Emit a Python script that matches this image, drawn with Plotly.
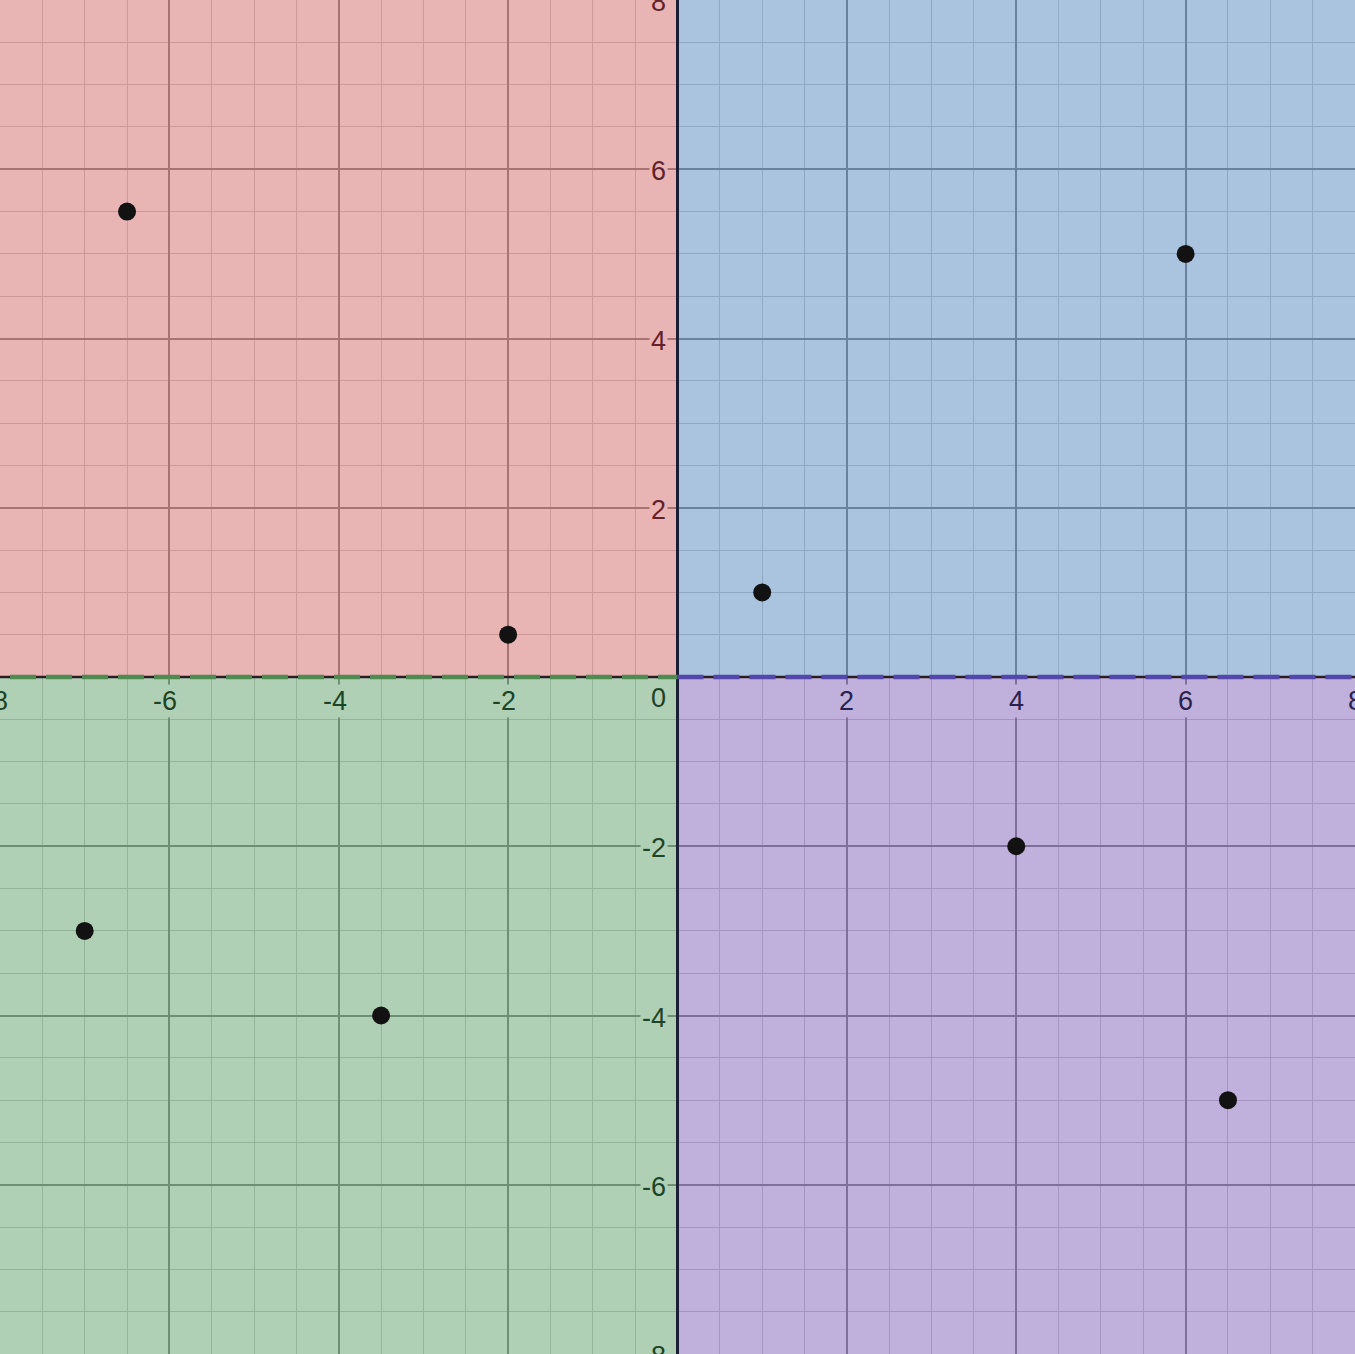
import plotly.graph_objects as go

# ---- data ----
pts_x = [-6.5, -2, 1, 6, -7, -3.5, 4, 6.5]
pts_y = [5.5, 0.5, 1, 5, -3, -4, -2, -5]

x_range = [-8, 8]
y_range = [-8, 8]
x_tick_vals = [-8, -6, -4, -2, 2, 4, 6, 8]
y_tick_vals = [-8, -6, -4, -2, 2, 4, 6, 8]
x_tick_text = ["-8", "-6", "-4", "-2", "2", "4", "6", "8"]
y_tick_text = ["-8", "-6", "-4", "-2", "2", "4", "6", "8"]

quad_bg = {"tl": "#e9b4b4", "tr": "#aac4e0", "bl": "#b0d0b5", "br": "#bfb1db"}
quad_fill = {"tl": "rgb(211,105,105)", "tr": "rgb(85,137,193)",
             "bl": "rgb(97,161,107)", "br": "rgb(127,99,183)"}
quad_label = {"tl": "#62222a", "tr": "#1f3550", "bl": "#1d4426", "br": "#2a2150"}

W, H = 1355, 1354
FONT = "Liberation Sans, Arial, sans-serif"
FS = 27

fig = go.Figure()

quad_extent = {
    "tl": (x_range[0], 0, 0, y_range[1]),
    "tr": (0, x_range[1], 0, y_range[1]),
    "bl": (x_range[0], 0, y_range[0], 0),
    "br": (0, x_range[1], y_range[0], 0),
}
for k, (x0, x1, y0, y1) in quad_extent.items():
    fig.add_shape(type="rect", xref="x", yref="y", x0=x0, x1=x1, y0=y0, y1=y1,
                  fillcolor=quad_fill[k], opacity=0.5, line=dict(width=0),
                  layer="between")

fig.add_shape(type="line", xref="x", yref="y", x0=x_range[0], x1=x_range[1], y0=0, y1=0,
              line=dict(color="#2a1c22", width=2.5), layer="between")
fig.add_shape(type="line", xref="x", yref="y", x0=0, x1=0, y0=y_range[0], y1=y_range[1],
              line=dict(color="#1b1f33", width=3), layer="between")

px_per_unit = W / (x_range[1] - x_range[0])
fig.add_trace(go.Scatter(x=[x_range[0] - 26 / px_per_unit, 0], y=[0, 0], mode="lines",
                         line=dict(color="#4f8a52", width=4.5, dash="26px,10px"),
                         hoverinfo="skip", showlegend=False))
fig.add_trace(go.Scatter(x=[0, x_range[1] + 1], y=[0, 0], mode="lines",
                         line=dict(color="#5546aa", width=4.5, dash="26px,10px"),
                         hoverinfo="skip", showlegend=False))

fig.add_trace(go.Scatter(x=pts_x, y=pts_y, mode="markers",
                         marker=dict(size=18, color="#121212", line=dict(width=0)),
                         showlegend=False))

for v, t in zip(x_tick_vals, x_tick_text):
    q = "bl" if v < 0 else "br"
    fig.add_annotation(x=v, y=0, xref="x", yref="y", text=t, showarrow=False,
                       font=dict(family=FONT, size=FS, color=quad_label[q]),
                       bgcolor=quad_bg[q], borderpad=1,
                       xanchor="center", yanchor="middle",
                       xshift=-4 if v < 0 else 0, yshift=-24)
for v, t in zip(y_tick_vals, y_tick_text):
    q = "tl" if v > 0 else "bl"
    fig.add_annotation(x=0, y=v, xref="x", yref="y", text=t, showarrow=False,
                       font=dict(family=FONT, size=FS, color=quad_label[q]),
                       bgcolor=quad_bg[q], borderpad=1,
                       xanchor="right", yanchor="middle", xshift=-10, yshift=-2)
fig.add_annotation(x=0, y=0, xref="x", yref="y", text="0", showarrow=False,
                   font=dict(family=FONT, size=FS, color=quad_label["bl"]),
                   bgcolor=quad_bg["bl"], borderpad=1,
                   xanchor="right", yanchor="middle", xshift=-10, yshift=-21)

axis_common = dict(showticklabels=False, ticks="", zeroline=False, showline=False,
                   showgrid=True, dtick=2, tick0=0, gridcolor="#7c7c7c", gridwidth=1.5,
                   minor=dict(dtick=0.5, tick0=0, showgrid=True, gridcolor="#c8c8c8",
                              gridwidth=1),
                   fixedrange=True)
fig.update_xaxes(range=x_range, **axis_common)
fig.update_yaxes(range=y_range, **axis_common)

fig.update_layout(width=W, height=H, margin=dict(l=0, r=0, t=0, b=0, pad=0),
                  plot_bgcolor="white", paper_bgcolor="white",
                  showlegend=False, hovermode=False)

fig.write_html("out.html", config={"displayModeBar": False},
               post_script="document.body.style.margin='0';document.body.style.overflow='hidden';")
